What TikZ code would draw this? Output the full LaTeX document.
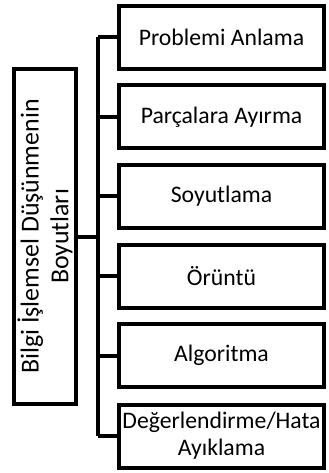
\documentclass[tikz,border=0pt]{standalone}
\usepackage{fontspec}
\setmainfont{Carlito}
\begin{document}
\begin{tikzpicture}[x=1bp,y=-1bp,
  line width=4bp,
  dimbox/.style={draw=black, fill=white, minimum width=205bp, minimum height=63bp, inner sep=0pt, align=center, font=\fontsize{23.8}{27}\selectfont},
  rootbox/.style={draw=black, fill=white, minimum width=335bp, minimum height=62bp, inner sep=0pt, align=center, rotate=90, font=\fontsize{26}{30}\selectfont},
  conn/.style={draw=black, line width=4bp}]
\fill[white] (0,0) rectangle (328,473);
\useasboundingbox (0,0) rectangle (328,473);
\node[rootbox] (root) at (45,236.5) {Bilgi İşlemsel Düşünmenin\\Boyutları};
\node[dimbox] (b1) at (221.5,37.5) {Problemi Anlama};
\node[dimbox] (b2) at (221.5,117) {Parçalara Ayırma};
\node[dimbox] (b3) at (221.5,196.5) {Soyutlama};
\node[dimbox] (b4) at (221.5,276) {Örüntü};
\node[dimbox] (b5) at (221.5,355.5) {Algoritma};
\node[dimbox] (b6) at (221.5,436) {Değerlendirme/Hata\\Ayıklama};
\coordinate (top) at (97.5,37.5);
\coordinate (bot) at (97.5,436);
\coordinate (mid) at (97.5,236.5);
\draw[conn] (top) -- (bot);
\draw[conn] (root.south) -- (mid);
\foreach \b in {b1,b2,b3,b4,b5,b6}{
  \draw[conn] (\b.west) -- (\b.west -| top);
}
\end{tikzpicture}
\end{document}
